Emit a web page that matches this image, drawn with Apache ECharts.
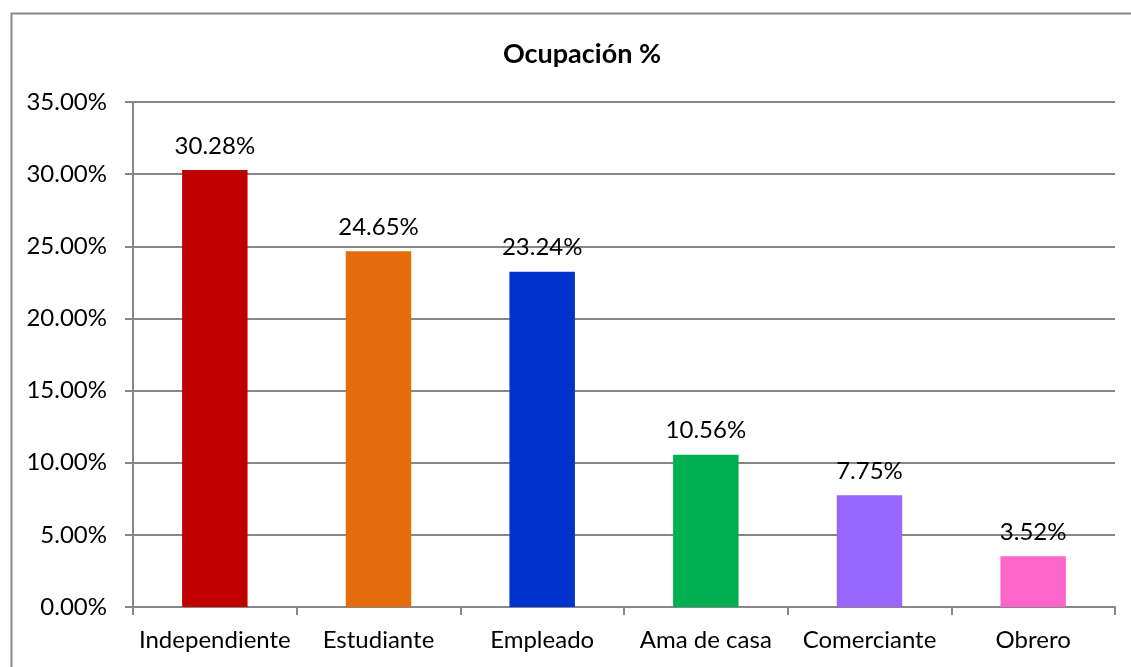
<!DOCTYPE html>
<html><head><meta charset="utf-8">
<script src="https://cdn.jsdelivr.net/npm/echarts@6/dist/echarts.min.js"></script>
<style>html,body{margin:0;padding:0;background:#fff}#c{width:1131px;height:667px}</style>
</head><body><div id="c"></div>
<script>
const title = 'Ocupación %';
const categories = ['Independiente','Estudiante','Empleado','Ama de casa','Comerciante','Obrero'];
const values = [30.28, 24.65, 23.24, 10.56, 7.75, 3.52];
const colors = ['#C00000','#E46C0A','#0033CC','#00B050','#9966FF','#FF66CC'];
const yTicks = {min: 0, max: 35, interval: 5};

const FONT = 'Lato';
const chart = echarts.init(document.getElementById('c'));
chart.setOption({
  animation: false,
  backgroundColor: '#fff',
  title: {text: title, left: 577, textAlign: 'center', top: 36, textStyle: {fontFamily: FONT, fontSize: 27, fontWeight: 'bold', color: '#000'}},
  graphic: [{type: 'rect', shape: {x: 11.5, y: 13.5, width: 1300, height: 800}, style: {fill: 'none', stroke: '#888', lineWidth: 2}, silent: true, z: -1}],
  grid: {left: 133, right: 16, top: 102, bottom: 60},
  xAxis: {
    type: 'category', data: categories,
    axisLine: {lineStyle: {color: '#868686', width: 2}},
    axisTick: {show: true, length: 8, interval: 0, lineStyle: {color: '#868686', width: 2}},
    axisLabel: {fontFamily: FONT, fontSize: 24, color: '#000', margin: 21, interval: 0}
  },
  yAxis: {
    type: 'value', min: yTicks.min, max: yTicks.max, interval: yTicks.interval,
    axisLine: {show: true, lineStyle: {color: '#868686', width: 2}},
    axisTick: {show: true, length: 8, lineStyle: {color: '#868686', width: 2}},
    splitLine: {lineStyle: {color: '#868686', width: 2}},
    axisLabel: {fontFamily: FONT, fontSize: 24, color: '#000', margin: 26, formatter: v => v.toFixed(2) + '%'}
  },
  series: [{
    type: 'bar', barWidth: '40%',
    data: values.map((v, i) => ({value: v, itemStyle: {color: colors[i]}})),
    label: {show: true, position: 'top', distance: 12, fontFamily: FONT, fontSize: 24, color: '#000', formatter: p => p.value.toFixed(2) + '%'}
  }]
});
</script></body></html>
